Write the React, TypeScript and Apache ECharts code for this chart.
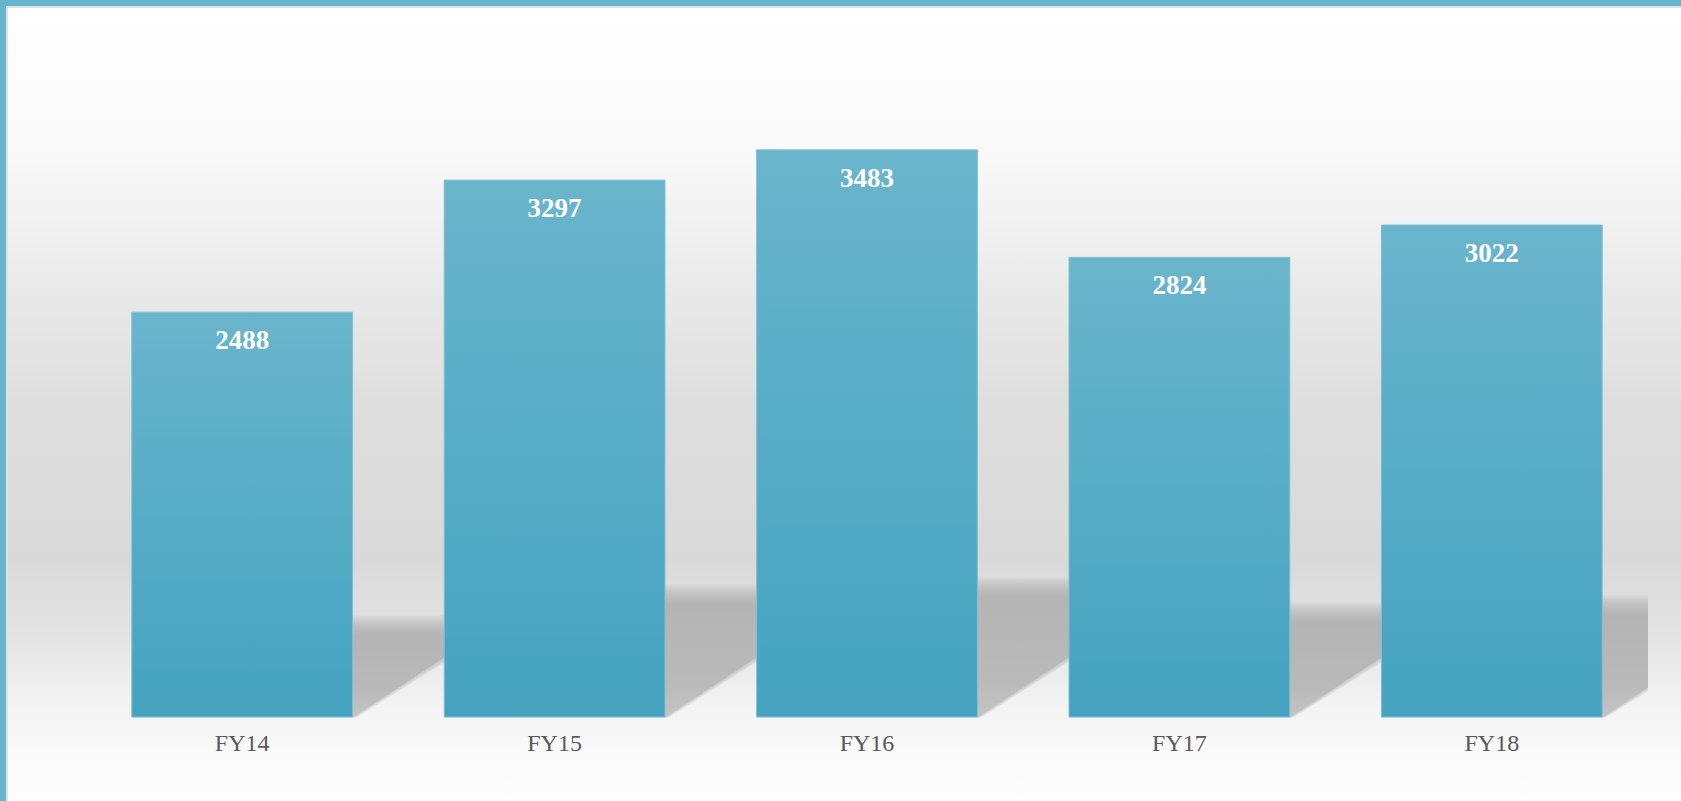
import React, { useEffect, useRef } from "react";
import * as echarts from "echarts";

const categories = ["FY14", "FY15", "FY16", "FY17", "FY18"];
const values = [2488, 3297, 3483, 2824, 3022];
const shadowRatio = 0.23;

export default function App() {
  const ref = useRef<HTMLDivElement>(null);
  useEffect(() => {
    if (!ref.current) return;
    const chart = echarts.init(ref.current, undefined, { renderer: "svg" });
    const bandGapRatio = 0.29;
    const option: any = {
      animation: false,
      backgroundColor: new echarts.graphic.LinearGradient(0, 0, 0, 1, [
        { offset: 0, color: "#ffffff" },
        { offset: 0.08, color: "#fdfdfd" },
        { offset: 0.2, color: "#f8f8f8" },
        { offset: 0.29, color: "#f0f0f0" },
        { offset: 0.375, color: "#e8e8e8" },
        { offset: 0.46, color: "#e2e2e2" },
        { offset: 0.5, color: "#dedede" },
        { offset: 0.7, color: "#d9d9d9" },
        { offset: 0.79, color: "#e3e3e3" },
        { offset: 0.85, color: "#eeeeee" },
        { offset: 0.895, color: "#f5f5f5" },
        { offset: 0.94, color: "#fafafa" },
        { offset: 1, color: "#fdfdfd" },
      ]),
      graphic: [
        { type: "rect", left: 0, top: 0, shape: { width: 1681, height: 6 }, style: { fill: "#68b4cb" }, z: 100 },
        { type: "rect", left: 0, top: 0, shape: { width: 6, height: 801 }, style: { fill: "#68b4cb" }, z: 100 },
        { type: "rect", left: 6, top: 6, shape: { width: 1675, height: 2 }, style: { fill: "#dbe3e6" }, z: 99 },
        { type: "rect", left: 6, top: 6, shape: { width: 2, height: 795 }, style: { fill: "#dbe3e6" }, z: 99 },
      ],
      grid: { left: 86, right: 33, top: 65, bottom: 83.5 },
      xAxis: {
        type: "category",
        data: categories,
        axisLine: { show: false },
        axisTick: { show: false },
        axisLabel: {
          margin: 13,
          color: "#595959",
          fontSize: 24,
          lineHeight: 24,
          fontFamily: "'Liberation Serif', 'Times New Roman', serif",
        },
      },
      yAxis: {
        type: "value",
        min: 0,
        max: 4000,
        show: false,
        splitLine: { show: false },
      },
      series: [
        {
          type: "custom",
          z: 1,
          clip: true,
          silent: true,
          data: values.map((v, i) => [i, v * shadowRatio]),
          renderItem: (params: any, api: any) => {
            const i = api.value(0);
            const h = api.value(1);
            const base = api.coord([i, 0]);
            const top = api.coord([i, h]);
            const band = api.size([1, 0])[0];
            const w = band * (1 - bandGapRatio);
            const x0 = base[0] - w / 2;
            const x1 = base[0] + w / 2;
            const slope = 0.66;
            const extra = 10;
            const topY = top[1] - extra;
            const sh = base[1] - topY;
            const dx = sh / slope;
            const fade = Math.min(0.5, 22 / sh);
            const makePoly = (shift: number, opacity: number) => ({
              type: "polygon",
              shape: {
                points: [
                  [x0, base[1]],
                  [x1 + shift * 0.3, base[1]],
                  [x1 + dx + shift, topY],
                  [x0 + dx, topY],
                ],
              },
              style: {
                opacity,
                fill: new echarts.graphic.LinearGradient(0, 0, 0, 1, [
                  { offset: 0, color: "rgba(178,178,178,0)" },
                  { offset: fade, color: "#b4b4b4" },
                  { offset: 0.75, color: "#bababa" },
                  { offset: 1, color: "#c4c4c4" },
                ]),
              },
            });
            const children: any[] = [];
            for (let k = 4; k >= 1; k--) children.push(makePoly(k * 3, 0.22));
            children.push(makePoly(0, 1));
            return { type: "group", children };
          },
        },
        {
          type: "bar",
          z: 2,
          data: values,
          barCategoryGap: "29%",
          itemStyle: {
            color: new echarts.graphic.LinearGradient(0, 0, 0, 1, [
              { offset: 0, color: "#69b5cc" },
              { offset: 1, color: "#44a3c0" },
            ]),
            borderColor: "#80c1d4",
            borderWidth: 1,
          },
          label: {
            show: true,
            position: "insideTop",
            distance: 15,
            color: "#ffffff",
            fontWeight: "bold",
            fontSize: 27,
            lineHeight: 27,
            fontFamily: "'Liberation Serif', 'Times New Roman', serif",
          },
        },
      ],
    };
    chart.setOption(option);
    return () => chart.dispose();
  }, []);
  return (
    <div
      ref={ref}
      style={{ position: "fixed", left: 0, top: 0, width: 1681, height: 801 }}
    />
  );
}
